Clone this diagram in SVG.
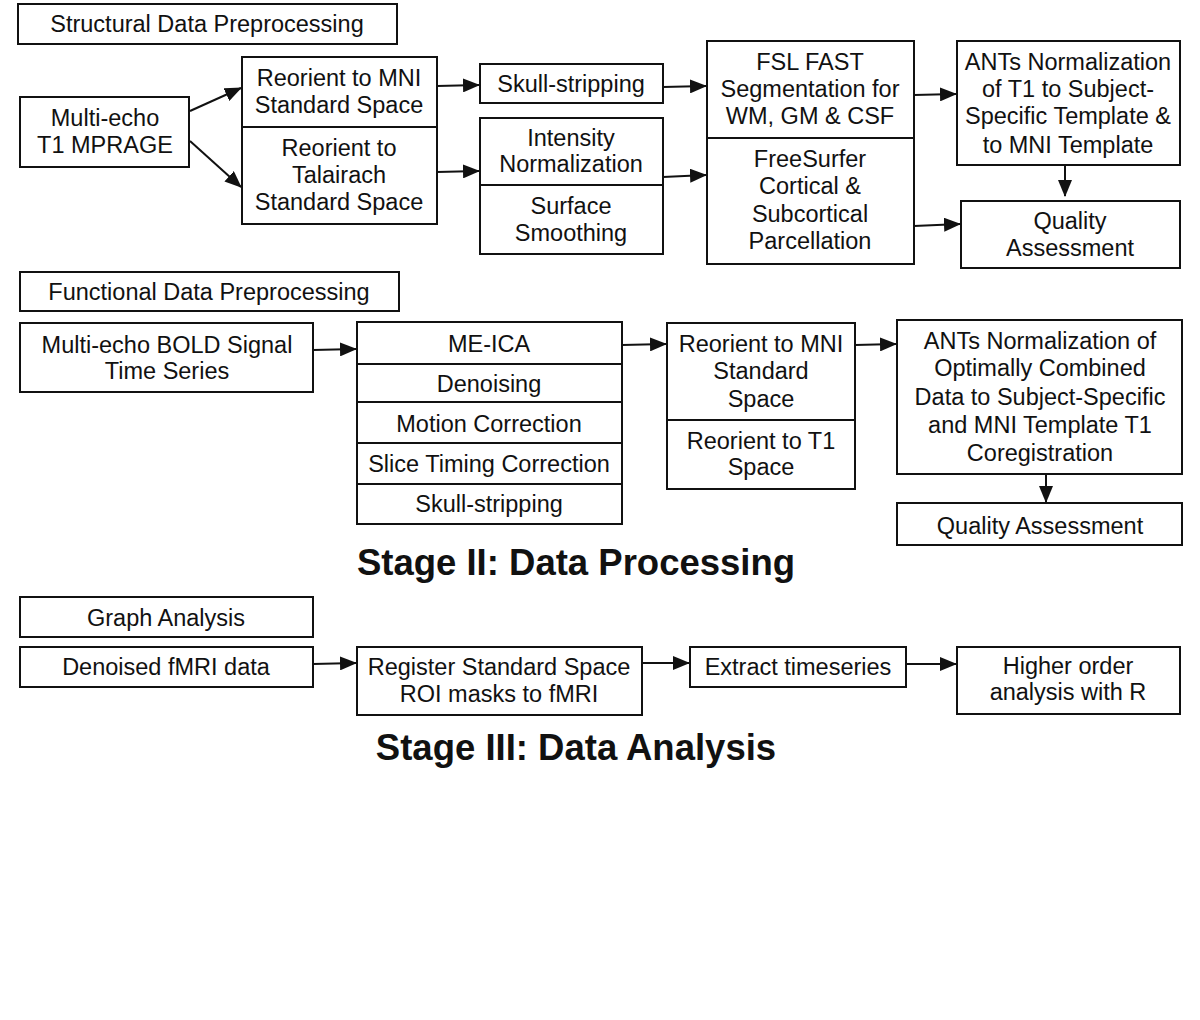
<svg xmlns="http://www.w3.org/2000/svg" width="1200" height="1020" viewBox="0 0 1200 1020">
<style>
rect{fill:#fff;stroke:#111;stroke-width:2}
.d{stroke:#111;stroke-width:2}
text{font-family:"Liberation Sans",Arial,sans-serif;font-size:23.5px;fill:#111;text-anchor:middle}
.t{font-size:36.5px;font-weight:bold}
.c{stroke:#111;stroke-width:2;fill:none;marker-end:url(#ah)}
</style>
<defs>
<marker id="ah" markerWidth="8.5" markerHeight="7" refX="8" refY="3.5" orient="auto" markerUnits="strokeWidth">
<path d="M0,0 L8.5,3.5 L0,7 Z" fill="#111"/>
</marker>
</defs>
<rect x="0" y="0" width="1200" height="1020" style="stroke:none"/>

<g id="structural-header"><rect x="18" y="4" width="379" height="40"/><text x="207" y="32">Structural Data Preprocessing</text></g>
<g id="t1-mprage"><rect x="20" y="97" width="169" height="70"/><text x="105" y="126">Multi-echo</text><text x="105" y="153">T1 MPRAGE</text></g>
<g id="reorient-struct"><rect x="242" y="57" width="195" height="167"/><line class="d" x1="242" y1="127" x2="437" y2="127"/>
<text x="339" y="86">Reorient to MNI</text><text x="339" y="113">Standard Space</text>
<text x="339" y="156">Reorient to</text><text x="339" y="183">Talairach</text><text x="339" y="210">Standard Space</text></g>
<g id="skull-struct"><rect x="480" y="64" width="183" height="39"/><text x="571" y="92">Skull-stripping</text></g>
<g id="intensity"><rect x="480" y="118" width="183" height="136"/><line class="d" x1="480" y1="185" x2="663" y2="185"/>
<text x="571" y="146">Intensity</text><text x="571" y="172">Normalization</text>
<text x="571" y="214">Surface</text><text x="571" y="241">Smoothing</text></g>
<g id="fsl-freesurfer"><rect x="707" y="41" width="207" height="223"/><line class="d" x1="707" y1="138" x2="914" y2="138"/>
<text x="810" y="70">FSL FAST</text><text x="810" y="97">Segmentation for</text><text x="810" y="124">WM, GM &amp; CSF</text>
<text x="810" y="167">FreeSurfer</text><text x="810" y="194">Cortical &amp;</text><text x="810" y="222">Subcortical</text><text x="810" y="249">Parcellation</text></g>
<g id="ants-struct"><rect x="957" y="41" width="223" height="124"/>
<text x="1068" y="70">ANTs Normalization</text><text x="1068" y="97">of T1 to Subject-</text><text x="1068" y="124">Specific Template &amp;</text><text x="1068" y="153">to MNI Template</text></g>
<g id="qa-struct"><rect x="961" y="201" width="219" height="67"/><text x="1070" y="229">Quality</text><text x="1070" y="256">Assessment</text></g>

<g id="functional-header"><rect x="20" y="272" width="379" height="39"/><text x="209" y="300">Functional Data Preprocessing</text></g>
<g id="bold"><rect x="20" y="323" width="293" height="69"/><text x="167" y="353">Multi-echo BOLD Signal</text><text x="167" y="379">Time Series</text></g>
<g id="meica"><rect x="357" y="322" width="265" height="202"/>
<line class="d" x1="357" y1="364" x2="622" y2="364"/><line class="d" x1="357" y1="402" x2="622" y2="402"/><line class="d" x1="357" y1="443" x2="622" y2="443"/><line class="d" x1="357" y1="484" x2="622" y2="484"/>
<text x="489" y="352">ME-ICA</text><text x="489" y="392">Denoising</text><text x="489" y="432">Motion Correction</text><text x="489" y="472">Slice Timing Correction</text><text x="489" y="512">Skull-stripping</text></g>
<g id="reorient-func"><rect x="667" y="323" width="188" height="166"/><line class="d" x1="667" y1="420" x2="855" y2="420"/>
<text x="761" y="352">Reorient to MNI</text><text x="761" y="379">Standard</text><text x="761" y="407">Space</text>
<text x="761" y="449">Reorient to T1</text><text x="761" y="475">Space</text></g>
<g id="ants-func"><rect x="897" y="320" width="285" height="154"/>
<text x="1040" y="349">ANTs Normalization of</text><text x="1040" y="376">Optimally Combined</text><text x="1040" y="405">Data to Subject-Specific</text><text x="1040" y="433">and MNI Template T1</text><text x="1040" y="461">Coregistration</text></g>
<g id="qa-func"><rect x="897" y="503" width="285" height="42"/><text x="1040" y="534">Quality Assessment</text></g>
<g id="stage2"><text class="t" x="576" y="575">Stage II: Data Processing</text></g>

<g id="graph-header"><rect x="20" y="597" width="293" height="40"/><text x="166" y="626">Graph Analysis</text></g>
<g id="denoised"><rect x="20" y="647" width="293" height="40"/><text x="166" y="675">Denoised fMRI data</text></g>
<g id="register"><rect x="357" y="647" width="285" height="68"/><text x="499" y="675">Register Standard Space</text><text x="499" y="702">ROI masks to fMRI</text></g>
<g id="extract"><rect x="690" y="647" width="216" height="40"/><text x="798" y="675">Extract timeseries</text></g>
<g id="higher"><rect x="957" y="647" width="223" height="67"/><text x="1068" y="674">Higher order</text><text x="1068" y="700">analysis with R</text></g>
<g id="stage3"><text class="t" x="576" y="760">Stage III: Data Analysis</text></g>

<g id="connectors">
<line class="c" x1="190" y1="111" x2="241" y2="88"/>
<line class="c" x1="190" y1="141" x2="241" y2="187"/>
<line class="c" x1="437" y1="86" x2="479" y2="85"/>
<line class="c" x1="437" y1="172" x2="479" y2="171"/>
<line class="c" x1="663" y1="87" x2="706" y2="86"/>
<line class="c" x1="663" y1="177" x2="706" y2="175"/>
<line class="c" x1="914" y1="95" x2="956" y2="94"/>
<line class="c" x1="914" y1="226" x2="960" y2="224"/>
<line class="c" x1="1065" y1="165" x2="1065" y2="196"/>
<line class="c" x1="313" y1="350" x2="356" y2="349"/>
<line class="c" x1="622" y1="345" x2="666" y2="344"/>
<line class="c" x1="855" y1="345" x2="896" y2="344"/>
<line class="c" x1="1046" y1="474" x2="1046" y2="502"/>
<line class="c" x1="313" y1="664" x2="356" y2="663"/>
<line class="c" x1="642" y1="663" x2="689" y2="663"/>
<line class="c" x1="906" y1="664" x2="956" y2="664"/>
</g>
</svg>
